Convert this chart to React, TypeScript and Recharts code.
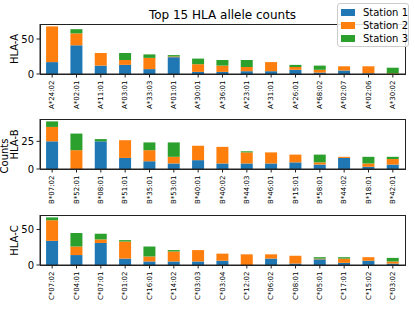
import React from 'react';
import { BarChart, Bar, XAxis, YAxis, Legend } from 'recharts';

// HLA-A
const allelesA = ['A*24:02', 'A*02:01', 'A*11:01', 'A*03:01', 'A*33:03', 'A*01:01', 'A*30:01', 'A*36:01', 'A*23:01', 'A*31:01', 'A*26:01', 'A*68:02', 'A*02:07', 'A*02:06', 'A*30:02'];
const station1A = [17, 41, 12, 13, 7, 24, 3, 3, 4, 4, 6, 2, 5, 1, 0];
const station2A = [51, 17, 18, 7, 16, 1, 11, 9, 6, 13, 4, 4, 6, 10, 1];
const station3A = [0, 6, 0, 10, 5, 2, 8, 8, 10, 0, 3, 6, 0, 0, 8];

// HLA-B
const allelesB = ['B*07:02', 'B*52:01', 'B*08:01', 'B*51:01', 'B*35:01', 'B*53:01', 'B*40:01', 'B*40:02', 'B*44:03', 'B*46:01', 'B*15:01', 'B*58:01', 'B*44:02', 'B*18:01', 'B*42:01'];
const station1B = [25, 0, 25, 10, 7, 5, 8, 5, 5, 5, 6, 4, 10, 2, 4];
const station2B = [13, 17, 0, 16, 10, 6, 13, 15, 10, 10, 7, 2, 1, 3, 5];
const station3B = [5, 15, 2, 0, 7, 13, 0, 0, 1, 0, 0, 7, 0, 6, 2];

// HLA-C
const allelesC = ['C*07:02', 'C*04:01', 'C*07:01', 'C*01:02', 'C*16:01', 'C*14:02', 'C*03:03', 'C*03:04', 'C*12:02', 'C*06:02', 'C*08:01', 'C*05:01', 'C*17:01', 'C*15:02', 'C*03:02'];
const station1C = [34, 14, 31, 9, 5, 5, 5, 6, 0, 9, 2, 8, 3, 6, 2];
const station2C = [29, 12, 5, 24, 7, 14, 16, 10, 15, 6, 11, 1, 6, 5, 3];
const station3C = [4, 19, 8, 2, 14, 2, 0, 0, 0, 0, 0, 2, 2, 0, 5];

const stations = ['Station 1', 'Station 2', 'Station 3'];
const colors = ['#1f77b4', '#ff7f0e', '#2ca02c'];

const font = '"DejaVu Sans", sans-serif';
const spine = '#222';

const buildRows = (names: string[], s1: number[], s2: number[], s3: number[]) =>
  names.map((name, i) => ({ name, s1: s1[i], s2: s2[i], s3: s3[i] }));

const RotTick = (props: any) => {
  const { x, y, payload } = props;
  return (
    <text
      x={x}
      y={y}
      transform={`rotate(-90 ${x} ${y})`}
      textAnchor="end"
      dominantBaseline="central"
      fontSize={7}
      fontFamily={font}
      fill="#000"
    >
      {payload.value}
    </text>
  );
};

const LegendBox = (props: any) => {
  const { payload } = props;
  return (
    <div
      style={{
        boxSizing: 'border-box',
        width: 72,
        height: 44,
        border: '1px solid #ccc',
        borderRadius: 3,
        background: 'rgba(255,255,255,0.85)',
        paddingTop: 2,
        fontFamily: font,
        fontSize: 10,
      }}
    >
      {(payload || []).map((p: any) => (
        <div key={p.value} style={{ height: 13, display: 'flex', alignItems: 'center' }}>
          <span style={{ display: 'inline-block', width: 18, height: 7, background: p.color, marginLeft: 3, marginRight: 8 }} />
          <span style={{ color: '#000', whiteSpace: 'nowrap' }}>{p.value}</span>
        </div>
      ))}
    </div>
  );
};

const Panel: React.FC<{ rows: any[]; ticks: number[]; top: number; legend?: boolean }> = ({ rows, ticks, top, legend }) => {
  const max = Math.max(...rows.map((r) => r.s1 + r.s2 + r.s3));
  return (
    <div style={{ position: 'absolute', left: 0, top, width: 415, height: 110 }}>
      {/* axes frame (top + right spines) */}
      <div
        style={{
          position: 'absolute',
          left: 39.5,
          top: 23.5,
          width: 366,
          height: 51,
          boxSizing: 'border-box',
          border: `1px solid ${spine}`,
        }}
      />
      <div style={{ position: 'absolute', left: 0, top: 0 }}>
        <BarChart width={415} height={110} data={rows} margin={{ top: 24, right: 10, bottom: 0, left: 0 }} barCategoryGap="25%">
          <XAxis
            dataKey="name"
            interval={0}
            height={36}
            tick={<RotTick />}
            tickSize={3.5}
            tickMargin={3}
            axisLine={{ stroke: spine }}
            tickLine={{ stroke: spine }}
          />
          <YAxis
            width={40}
            type="number"
            domain={[0, max * 1.05]}
            ticks={ticks}
            tickSize={3.5}
            tickMargin={2.5}
            tick={{ fontSize: 10, fill: '#000', fontFamily: font }}
            axisLine={{ stroke: spine }}
            tickLine={{ stroke: spine }}
          />
          {legend && (
            <Legend
              layout="vertical"
              align="center"
              verticalAlign="middle"
              content={<LegendBox />}
              wrapperStyle={{ position: 'absolute', top: 3, left: 337, width: 72, height: 44 }}
            />
          )}
          <Bar dataKey="s1" name={stations[0]} stackId="a" fill={colors[0]} isAnimationActive={false} />
          <Bar dataKey="s2" name={stations[1]} stackId="a" fill={colors[1]} isAnimationActive={false} />
          <Bar dataKey="s3" name={stations[2]} stackId="a" fill={colors[2]} isAnimationActive={false} />
        </BarChart>
      </div>
    </div>
  );
};

const App: React.FC = () => {
  const rowsA = buildRows(allelesA, station1A, station2A, station3A);
  const rowsB = buildRows(allelesB, station1B, station2B, station3B);
  const rowsC = buildRows(allelesC, station1C, station2C, station3C);

  return (
    <div style={{ position: 'fixed', left: 0, top: 0, width: 415, height: 311, background: '#fff' }}>
      <svg width={415} height={311} style={{ position: 'absolute', left: 0, top: 0 }}>
        <text x={222.5} y={19} textAnchor="middle" fontSize={12} fontFamily={font} fill="#000">
          Top 15 HLA allele counts
        </text>
        <text x={17.5} y={49} transform="rotate(-90 17.5 49)" textAnchor="middle" fontSize={10} fontFamily={font} fill="#000">
          HLA-A
        </text>
        <text x={17.5} y={144.5} transform="rotate(-90 17.5 144.5)" textAnchor="middle" fontSize={10} fontFamily={font} fill="#000">
          HLA-B
        </text>
        <text x={17.5} y={240.5} transform="rotate(-90 17.5 240.5)" textAnchor="middle" fontSize={10} fontFamily={font} fill="#000">
          HLA-C
        </text>
        <text x={7.5} y={156} transform="rotate(-90 7.5 156)" textAnchor="middle" fontSize={10} fontFamily={font} fill="#000">
          Counts
        </text>
      </svg>
      <Panel rows={rowsA} ticks={[0, 50]} top={0} legend />
      <Panel rows={rowsB} ticks={[0, 25]} top={95} />
      <Panel rows={rowsC} ticks={[0, 50]} top={191.3} />
    </div>
  );
};

export default App;
